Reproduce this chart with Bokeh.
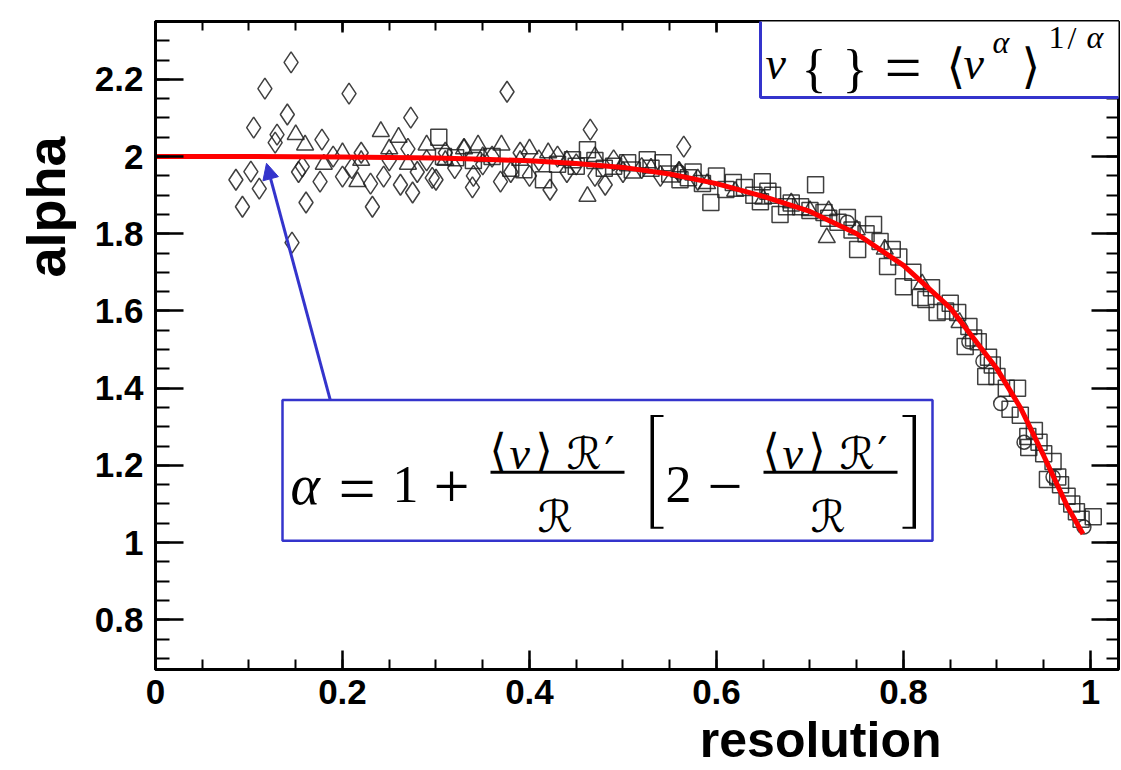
import math
from bokeh.plotting import figure
from bokeh.models import (Range1d, LinearAxis, FixedTicker, CustomJSTickFormatter, Title,
                          Label, BoxAnnotation, PolyAnnotation, Arrow, NormalHead)
from bokeh.embed import file_html
from bokeh.resources import INLINE

# ---------------- data ----------------
x_tick_values = [0.0, 0.2, 0.4, 0.6, 0.8, 1.0]
x_tick_labels = ["0", "0.2", "0.4", "0.6", "0.8", "1"]
y_tick_values = [0.8, 1.0, 1.2, 1.4, 1.6, 1.8, 2.0, 2.2]
y_tick_labels = ["0.8", "1", "1.2", "1.4", "1.6", "1.8", "2", "2.2"]

curve_x = [0.0, 0.1, 0.2, 0.3, 0.35, 0.4, 0.45, 0.5, 0.55, 0.6, 0.65, 0.7, 0.75, 0.8,
           0.85, 0.9, 0.925, 0.95, 0.975, 0.992]
curve_y = [2.000, 2.000, 1.999, 1.996, 1.993, 1.989, 1.982, 1.972, 1.955, 1.930, 1.897,
           1.858, 1.800, 1.718, 1.608, 1.450, 1.350, 1.225, 1.095, 1.022]

diamond_x = [0.145, 0.117, 0.207, 0.376, 0.141, 0.105, 0.130, 0.128, 0.178, 0.157,
             0.102, 0.086, 0.111, 0.093, 0.161, 0.176, 0.146, 0.232, 0.244, 0.273,
             0.465, 0.565, 0.339, 0.369, 0.422, 0.481, 0.19, 0.21, 0.22, 0.25,
             0.262, 0.275, 0.296, 0.20, 0.29, 0.30, 0.31, 0.32, 0.33, 0.35,
             0.36, 0.38, 0.39, 0.40, 0.41, 0.43, 0.44, 0.45, 0.47, 0.49,
             0.50, 0.52, 0.54, 0.56, 0.58, 0.23, 0.34, 0.153, 0.27, 0.28]
diamond_y = [2.244, 2.176, 2.163, 2.168, 2.109, 2.075, 2.057, 2.036, 2.044, 1.974,
             1.961, 1.940, 1.917, 1.870, 1.881, 1.935, 1.777, 1.870, 1.948, 2.101,
             2.070, 2.026, 1.920, 1.935, 1.914, 1.927, 2.000, 1.970, 2.010, 1.990,
             1.927, 1.907, 1.945, 1.948, 1.990, 1.940, 2.010, 1.970, 2.020, 1.980,
             2.000, 1.960, 2.010, 1.950, 1.990, 2.000, 1.960, 1.980, 1.950, 1.990,
             1.960, 1.970, 1.950, 1.960, 1.940, 1.930, 1.950, 1.960, 2.020, 1.960]

triangle_x = [0.150, 0.241, 0.216, 0.462, 0.718, 0.16, 0.18, 0.20, 0.22, 0.25,
              0.27, 0.29, 0.31, 0.33, 0.35, 0.37, 0.39, 0.42, 0.44, 0.47,
              0.50, 0.53, 0.56, 0.59, 0.62, 0.65, 0.68, 0.70, 0.72, 0.75,
              0.78, 0.26, 0.40, 0.345, 0.82, 0.86]
triangle_y = [2.057, 2.065, 1.935, 1.897, 1.790, 2.030, 1.980, 2.010, 1.990, 2.020,
              1.980, 2.030, 1.990, 2.020, 2.000, 2.030, 1.990, 2.010, 1.990, 2.000,
              1.980, 1.970, 1.960, 1.930, 1.910, 1.890, 1.880, 1.860, 1.860, 1.810,
              1.760, 2.050, 2.020, 2.030, 1.670, 1.570]

square_x = [0.303, 0.308, 0.321, 0.34, 0.36, 0.38, 0.394, 0.415, 0.43, 0.446,
            0.462, 0.48, 0.505, 0.526, 0.543, 0.561, 0.575, 0.594, 0.60, 0.618,
            0.63, 0.647, 0.649, 0.66, 0.668, 0.68, 0.69, 0.706, 0.72, 0.74,
            0.751, 0.76, 0.768, 0.783, 0.788, 0.80, 0.81, 0.818, 0.824, 0.836,
            0.845, 0.858, 0.866, 0.875, 0.888, 0.891, 0.90, 0.914, 0.922, 0.933,
            0.934, 0.945, 0.954, 0.96, 0.968, 0.98, 0.99, 1.003,
            0.45, 0.47, 0.49, 0.51, 0.53, 0.55, 0.57, 0.585, 0.61, 0.64,
            0.655, 0.675, 0.70, 0.715, 0.73, 0.745, 0.775, 0.795, 0.83, 0.85,
            0.87, 0.88, 0.895, 0.91, 0.925, 0.94, 0.95, 0.965, 0.975, 0.985]
square_y = [2.050, 2.000, 1.997, 1.990, 2.000, 1.970, 1.966, 1.940, 1.980, 1.992,
            2.018, 1.970, 1.984, 1.992, 1.984, 1.940, 1.960, 1.881, 1.950, 1.933,
            1.920, 1.883, 1.935, 1.900, 1.850, 1.880, 1.870, 1.927, 1.840, 1.842,
            1.759, 1.800, 1.824, 1.715, 1.759, 1.663, 1.700, 1.635, 1.630, 1.596,
            1.600, 1.596, 1.508, 1.530, 1.430, 1.480, 1.430, 1.345, 1.400, 1.275,
            1.246, 1.260, 1.163, 1.210, 1.150, 1.100, 1.060, 1.067,
            1.975, 1.990, 1.975, 1.965, 1.970, 1.955, 1.945, 1.930, 1.915, 1.900,
            1.910, 1.870, 1.860, 1.855, 1.830, 1.810, 1.780, 1.740, 1.660, 1.620,
            1.560, 1.520, 1.460, 1.400, 1.330, 1.290, 1.230, 1.170, 1.120, 1.080]

circle_x = [0.87, 0.904, 0.929, 0.96, 0.993, 0.885, 0.74, 0.56]
circle_y = [1.52, 1.36, 1.26, 1.17, 1.040, 1.47, 1.83, 1.96]

# ---------------- layout ----------------
W, H = 1121, 770
FL, FR, FT, FB = 155, 1118, 21, 670          # frame edges in page pixels
X0, X1 = 0.0, 1.03
Y0, Y1 = 0.671, 2.35
BLUE = "#3434cc"


def dx(cx):
    return X0 + (cx - FL) / (FR - FL) * (X1 - X0)


def dy(cy):
    return Y0 + (FB - cy) / (FB - FT) * (Y1 - Y0)


p = figure(width=W, height=H, output_backend="svg", toolbar_location=None,
           x_range=Range1d(X0, X1), y_range=Range1d(Y0, Y1),
           min_border_left=FL, min_border_right=W - FR,
           min_border_top=FT, min_border_bottom=H - FB)
p.grid.visible = False
p.background_fill_color = "white"
p.border_fill_color = "white"
p.outline_line_color = "black"
p.outline_line_width = 3

JS_LOOKUP = """
let i = 0, best = 1e9;
for (let k = 0; k < vals.length; k++) { const d = Math.abs(vals[k] - tick); if (d < best) { best = d; i = k; } }
return labs[i];
"""
fmt_x = CustomJSTickFormatter(args=dict(vals=x_tick_values, labs=x_tick_labels), code=JS_LOOKUP)
fmt_y = CustomJSTickFormatter(args=dict(vals=y_tick_values, labs=y_tick_labels), code=JS_LOOKUP)
fmt_none_x = CustomJSTickFormatter(code="return '';")
fmt_none_y = CustomJSTickFormatter(code="return '';")

x_minor = [round(0.05 * k, 2) for k in range(0, 21)]
y_minor = [round(0.05 * k, 2) for k in range(13, 48)]


def style(ax, ticks, minor, maj_in, min_in, fmt, standoff=0, labels=True):
    ax.ticker = FixedTicker(ticks=ticks, minor_ticks=minor)
    ax.formatter = fmt
    ax.major_tick_in = maj_in
    ax.major_tick_out = 0
    ax.minor_tick_in = min_in
    ax.minor_tick_out = 0
    ax.axis_line_width = 3
    ax.axis_line_color = "black"
    ax.major_tick_line_width = 2.5
    ax.minor_tick_line_width = 2
    ax.major_tick_line_color = "black"
    ax.minor_tick_line_color = "black"
    ax.major_label_standoff = standoff
    if labels:
        ax.major_label_text_font = "Liberation Sans"
        ax.major_label_text_font_style = "bold"
        ax.major_label_text_font_size = "35px"
        ax.major_label_text_color = "black"


style(p.xaxis[0], x_tick_values, x_minor, 19, 10, fmt_x, 10)
style(p.yaxis[0], y_tick_values, y_minor, 28, 14, fmt_y, 12)
top_ax = LinearAxis()
right_ax = LinearAxis()
p.add_layout(top_ax, "above")
p.add_layout(right_ax, "right")
style(top_ax, x_tick_values, x_minor, 11, 9, fmt_none_x, 0, labels=False)
style(right_ax, y_tick_values, y_minor, 27, 12, fmt_none_y, 0, labels=False)

# axis titles, placed at the axis ends like the reference
x_title = Title(text="resolution", align="right", offset=FR - 941,
                vertical_align="bottom",
                text_font="Liberation Sans", text_font_style="bold",
                text_font_size="50px", text_color="black", standoff=6)
y_title = Title(text="alpha", align="right", offset=115, vertical_align="top",
                text_font="Liberation Sans", text_font_style="bold",
                text_font_size="54px", text_color="black", standoff=28)
p.add_layout(x_title, "below")
p.add_layout(y_title, "left")

# ---------------- data marks ----------------
MK = dict(fill_color=None, line_color="#1e1e1e", line_alpha=0.85, line_width=1.5)
p.scatter(diamond_x, diamond_y, marker="diamond", size=21, **MK)
p.scatter(triangle_x, triangle_y, marker="triangle", size=17, **MK)
p.scatter(square_x, square_y, marker="square", size=16, **MK)
p.scatter(circle_x, circle_y, marker="circle", size=14, **MK)
p.line(curve_x, curve_y, line_color="#ff0000", line_width=5)


# ---------------- annotations ----------------
def lab(text, cx, cy, size, font="Liberation Serif", style_="normal", align="left",
        baseline="alphabetic", angle=0.0):
    p.add_layout(Label(x=dx(cx), y=dy(cy), text=text, text_font=font,
                       text_font_size=f"{size}px", text_font_style=style_,
                       text_color="black", text_align=align, text_baseline=baseline,
                       angle=angle))


def box(l, r, t, b, fill="white", line=BLUE, lw=3.0):
    p.add_layout(BoxAnnotation(left=dx(l), right=dx(r), top=dy(t), bottom=dy(b),
                               fill_color=fill, fill_alpha=1.0,
                               line_color=line, line_width=lw,
                               line_alpha=1.0 if line else 0.0))


def poly(pts):
    p.add_layout(PolyAnnotation(xs=[dx(a) for a, _ in pts], ys=[dy(b) for _, b in pts],
                                fill_color="black", fill_alpha=1.0, line_alpha=0.0))


# arrow
p.add_layout(Arrow(x_start=dx(330), y_start=dy(401), x_end=dx(266), y_end=dy(163),
                   line_color=BLUE, line_width=3,
                   end=NormalHead(size=16, fill_color=BLUE, line_color=BLUE)))

# top formula box: v{ } = <v^a>^(1/a)
box(760, 1135, -6, 97)
lab("v", 765, 63, 46, style_="italic")
lab("{", 801, 68, 52)
lab("}", 842, 68, 52)
lab("=", 884, 67, 66)
lab("\u27e8", 946, 66, 48, font="DejaVu Sans")
lab("v", 963, 63, 46, style_="italic")
lab("\u03b1", 992, 42, 32, style_="italic")
lab("\u27e9", 1021, 66, 48, font="DejaVu Sans")
lab("1", 1048, 37, 32)
lab("/", 1067, 38, 32)
lab("\u03b1", 1086, 37, 32, style_="italic")

# lower formula box
box(282, 932, 400, 541, lw=2.5)
lab("\u03b1", 290, 485, 56, style_="italic")
lab("=", 338, 489, 66)
lab("1", 392, 485, 52)
lab("+", 433, 487, 64)
for off in (0, 273):
    lab("\u27e8", 489 + off, 450, 44, font="DejaVu Sans")
    lab("v", 509 + off, 454, 46, style_="italic")
    lab("\u27e9", 535 + off, 450, 44, font="DejaVu Sans")
    lab("\u211b", 566 + off, 454, 44, font="DejaVu Sans")
    lab("\u2032", 604 + off, 454, 44, font="DejaVu Sans")
    box(490 + off, 624 + off, 471, 474, fill="black", line=None, lw=0)
    lab("\u211b", 537 + off, 517, 44, font="DejaVu Sans")
lab("2", 665, 485, 52)
lab("\u2212", 707, 487, 62)
poly([(663, 415), (650, 415), (650, 529), (663, 529), (663, 527), (653.5, 527),
      (653.5, 417), (663, 417)])
poly([(902, 415), (915.5, 415), (915.5, 529), (902, 529), (902, 527), (912, 527),
      (912, 417), (902, 417)])

open("out.html", "w").write(file_html(p, INLINE))
